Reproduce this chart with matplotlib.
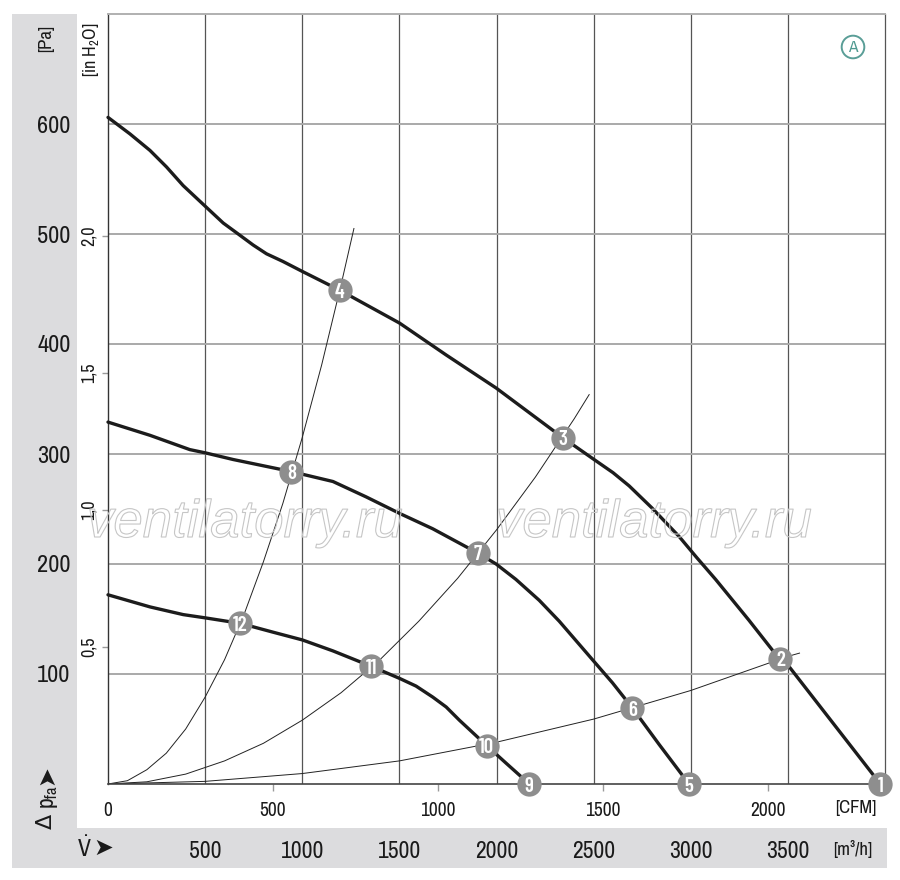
import matplotlib
matplotlib.use("Agg")
import matplotlib.pyplot as plt
from matplotlib.patches import Rectangle
import matplotlib.patheffects as pe

FAM = ['Archivo Narrow', 'DejaVu Sans']
plt.rcParams['font.family'] = FAM
plt.rcParams['mathtext.fontset'] = 'custom'
plt.rcParams['mathtext.rm'] = 'Archivo Narrow'
plt.rcParams['mathtext.it'] = 'Archivo Narrow:italic'

# ---------------- data (flow in m3/h, pressure in Pa) ----------------
curve1_q = [0, 113, 216, 301, 387, 502, 593, 678, 747, 816, 901, 1000, 1192, 1398, 1501, 1741, 1998,
            2340, 2494, 2600, 2683, 2800, 2870, 2940, 3030, 3128, 3299, 3428, 3505, 3976]
curve1_pa = [606, 591, 576, 561, 544, 525, 510, 499, 490, 482, 475, 466, 449, 429, 419, 390, 360,
             315, 296, 283, 271, 251, 238, 225, 206, 186, 149, 120, 107, 0]

curve2_q = [0, 216, 421, 502, 644, 944, 1158, 1329, 1501, 1672, 1903, 1998, 2100, 2220, 2323, 2494,
            2597, 2700, 2837, 2991]
curve2_pa = [329, 317, 304, 301, 295, 284, 275, 261, 246, 232, 210, 200, 186, 167, 148, 113,
             92, 69, 36, 0]

curve3_q = [0, 216, 387, 502, 682, 850, 1000, 1158, 1355, 1501, 1586, 1672, 1741, 1809, 1949, 2049, 2169]
curve3_pa = [172, 161, 154, 151, 146, 138, 131, 121, 107, 96, 89, 79, 70, 58, 35, 19, 0]

sysA_q = [0, 100, 200, 300, 400, 500, 600, 700, 800, 900, 1000, 1100, 1200, 1266]
sysA_pa = [0, 3, 13, 28, 50, 79, 113, 154, 202, 255, 315, 381, 454, 505]
sysB_q = [0, 200, 400, 600, 800, 1000, 1200, 1400, 1600, 1800, 2000, 2200, 2400, 2477]
sysB_pa = [0, 2, 9, 21, 37, 58, 83, 113, 148, 187, 231, 279, 332, 354]
sysC_q = [0, 500, 1000, 1500, 2000, 2500, 3000, 3500, 3560]
sysC_pa = [0, 2.4, 9.5, 21, 38, 59, 85, 116, 119]

point_labels = ['1', '2', '3', '4', '5', '6', '7', '8', '9', '10', '11', '12']
point_q = [3976, 3462, 2340, 1192, 2991, 2700, 1903, 944, 2169, 1949, 1355, 682]
point_pa = [0, 114, 315, 449, 0, 69, 210, 284, 0, 35, 107, 146]

m3h_ticks = [500, 1000, 1500, 2000, 2500, 3000, 3500]
pa_ticks = [100, 200, 300, 400, 500, 600]
cfm_ticks = [0, 500, 1000, 1500, 2000]
inh2o_ticks = [0.5, 1.0, 1.5, 2.0]
inh2o_labels = ['0,5', '1,0', '1,5', '2,0']

CFM_PER_M3H = 1 / 1.699
PA_PER_INH2O = 249.09

# ---------------- figure ----------------
W, H = 900, 880
fig = plt.figure(figsize=(W / 100, H / 100), dpi=100)
fig.patch.set_facecolor('white')


def fx(px):
    return px / W


def fy(py):
    return 1 - py / H


grey = '#dcdcde'
fig.patches.append(Rectangle((fx(12), fy(868)), fx(77) - fx(12), fy(14) - fy(868),
                             transform=fig.transFigure, fc=grey, ec='none', zorder=-5))
fig.patches.append(Rectangle((fx(12), fy(868)), fx(887) - fx(12), fy(828) - fy(868),
                             transform=fig.transFigure, fc=grey, ec='none', zorder=-5))

ax = fig.add_axes([fx(108), fy(784), fx(885) - fx(108), fy(14) - fy(784)])
ax.set_xlim(0, 4000)
ax.set_ylim(0, 700)
ax.set_facecolor('white')

ax.set_xticks(m3h_ticks)
ax.set_xticklabels([str(v) for v in m3h_ticks])
ax.set_yticks(pa_ticks)
ax.set_yticklabels([str(v) for v in pa_ticks])
ax.tick_params(axis='x', length=0, pad=41, labelsize=17, labelcolor='#1a1a1a')
ax.tick_params(axis='y', length=0, pad=27, labelsize=17.5, labelcolor='#1a1a1a')
ax.xaxis.grid(True, color='#555555', lw=0.9)
ax.yaxis.grid(True, color='#a9a9a9', lw=1.4)
ax.set_axisbelow(True)

ax.spines['top'].set_color('#b0b0b0')
ax.spines['top'].set_linewidth(1.4)
ax.spines['right'].set_color('#555555')
ax.spines['right'].set_linewidth(0.9)
ax.spines['left'].set_color('#333333')
ax.spines['left'].set_linewidth(1.0)
ax.spines['bottom'].set_color('#444444')
ax.spines['bottom'].set_linewidth(1.2)

# secondary axes: CFM and inH2O
secx = ax.secondary_xaxis('bottom', functions=(lambda q: q * CFM_PER_M3H, lambda c: c / CFM_PER_M3H))
secx.set_xticks(cfm_ticks)
secx.set_xticklabels([str(v) for v in cfm_ticks])
secx.tick_params(axis='x', length=5, width=1, color='#9a9a9a', pad=7, labelsize=14, labelcolor='#1a1a1a')
for s in secx.spines.values():
    s.set_visible(False)
secx.xaxis.get_major_ticks()[0].tick1line.set_visible(False)

secy = ax.secondary_yaxis('left', functions=(lambda p: p / PA_PER_INH2O, lambda i: i * PA_PER_INH2O))
secy.set_yticks(inh2o_ticks)
secy.set_yticklabels(inh2o_labels)
secy.tick_params(axis='y', length=4, width=1, color='#9a9a9a', pad=4, labelsize=13, labelcolor='#1a1a1a',
                 labelrotation=90)
for lab in secy.get_yticklabels():
    lab.set_va('center')
for s in secy.spines.values():
    s.set_visible(False)

# system resistance curves
for q, p in [(sysA_q, sysA_pa), (sysB_q, sysB_pa), (sysC_q, sysC_pa)]:
    ax.plot(q, p, color='#222222', lw=0.7, zorder=2, solid_joinstyle='round')

# fan curves
for q, p in [(curve1_q, curve1_pa), (curve2_q, curve2_pa), (curve3_q, curve3_pa)]:
    ax.plot(q, p, color='#1c1c1c', lw=2.4, zorder=3, solid_joinstyle='round',
            solid_capstyle='round', clip_on=False)

# operating points
ax.plot(point_q, point_pa, 'o', ms=17.5, mfc='#8e8e8e', mec='none', zorder=5, clip_on=False)
for lab, q, p in zip(point_labels, point_q, point_pa):
    ax.text(q, p, lab, color='white', fontsize=15, fontweight='semibold',
            family=['Barlow Condensed', 'Archivo Narrow', 'DejaVu Sans'],
            ha='center', va='center_baseline', zorder=6, clip_on=False)

# watermark
for cx in (245, 654):
    fig.text(fx(cx), fy(537), 'ventilatorry.ru', fontsize=38, family=['Liberation Sans', 'DejaVu Sans'],
             style='italic', color='none', ha='center', va='baseline', zorder=4,
             path_effects=[pe.Stroke(linewidth=0.8, foreground='#c6c6c6')])

# axis texts
ARROW_FAM = ['DejaVu Sans']
fig.text(fx(46), fy(38), '[Pa]', rotation=90, fontsize=13.5, ha='center', va='center', color='#1a1a1a')
fig.text(fx(91), fy(50), '[in H$_2$O]', rotation=90, fontsize=13, ha='center', va='center', color='#1a1a1a')
fig.text(fx(46), fy(821), '\u0394', rotation=90, fontsize=16, family=ARROW_FAM, ha='center', va='center',
         color='#1a1a1a')
fig.text(fx(49), fy(797), 'p$_{\\mathrm{fa}}$', rotation=90, fontsize=17, ha='center', va='center',
         color='#1a1a1a')
fig.text(fx(46), fy(775), '\u27a4', rotation=90, fontsize=17, family=ARROW_FAM, ha='center', va='center',
         color='#1a1a1a')
fig.text(fx(84), fy(848), '$\\dot{\\mathrm{V}}$', fontsize=17, ha='center', va='center', color='#1a1a1a')
fig.text(fx(103), fy(848), '\u27a4', fontsize=17, family=ARROW_FAM, ha='center', va='center', color='#1a1a1a')
fig.text(fx(856), fy(808), '[CFM]', fontsize=13.5, ha='center', va='center', color='#1a1a1a')
fig.text(fx(853), fy(849), '[m\u00b3/h]', fontsize=13.5, ha='center', va='center', color='#1a1a1a')

# badge "A"
fig.text(fx(853), fy(47), 'A', fontsize=12.5, fontweight='semibold', ha='center', va='center', color='#4f9990',
         bbox=dict(boxstyle='circle,pad=0.22', fc='white', ec='#5a9e97', lw=1.4))

fig.savefig('out.png', dpi=100)
